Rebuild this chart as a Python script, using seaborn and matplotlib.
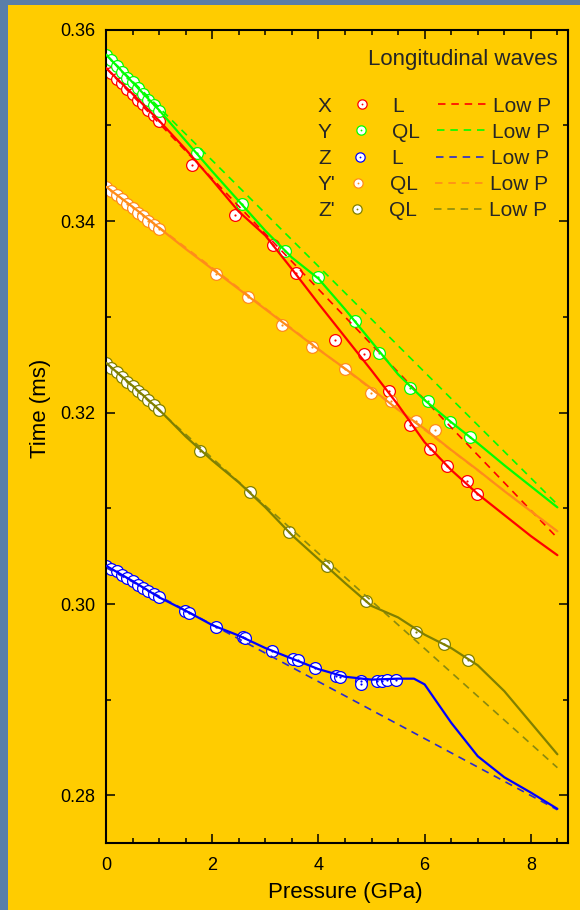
import matplotlib
matplotlib.use("Agg")
import matplotlib.pyplot as plt
import matplotlib.patches as mpatches
from matplotlib.lines import Line2D
from matplotlib.ticker import MultipleLocator, FormatStrFormatter
import pandas as pd
import seaborn as sns

# ---------------- data ----------------
P_dense = [0.0, 0.1, 0.2, 0.3, 0.4, 0.5, 0.6, 0.7, 0.8, 0.9, 1.0]

# measured points
X_P = P_dense + [1.62, 2.42, 3.15, 3.58, 4.31, 4.85, 5.32, 5.73, 6.10, 6.42, 6.80, 6.99]
X_T = [0.3560, 0.3555, 0.3549, 0.3544, 0.3538, 0.3533, 0.3527, 0.3522, 0.3516, 0.3511, 0.3505,
       0.3459, 0.3406, 0.3375, 0.3346, 0.3276, 0.3261, 0.3223, 0.3187, 0.3162, 0.3144, 0.3129, 0.3115]

Y_P = P_dense + [1.71, 2.57, 3.38, 4.00, 4.68, 5.15, 5.73, 6.06, 6.47, 6.86]
Y_T = [0.3574, 0.3568, 0.3562, 0.3556, 0.3550, 0.3545, 0.3539, 0.3533, 0.3527, 0.3521, 0.3515,
       0.3471, 0.3418, 0.3369, 0.3342, 0.3296, 0.3262, 0.3226, 0.3212, 0.3190, 0.3175]

Z_P = P_dense + [1.49, 1.57, 2.08, 2.58, 2.62, 3.12, 3.53, 3.62, 3.94, 4.33, 4.40,
                 4.80, 4.81, 5.10, 5.20, 5.30, 5.47]
Z_T = [0.3040, 0.3037, 0.3034, 0.3030, 0.3027, 0.3024, 0.3020, 0.3017, 0.3014, 0.3010, 0.3007,
       0.2993, 0.2991, 0.2976, 0.2966, 0.2964, 0.2951, 0.2943, 0.2941, 0.2933, 0.2925, 0.2924,
       0.2920, 0.2916, 0.2920, 0.2920, 0.2921, 0.2921]

Yp_P = P_dense + [2.07, 2.67, 3.32, 3.87, 4.51, 4.99, 5.36, 5.84, 6.20]
Yp_T = [0.3436, 0.3432, 0.3427, 0.3423, 0.3418, 0.3414, 0.3409, 0.3405, 0.3400, 0.3396, 0.3392,
        0.3345, 0.3321, 0.3291, 0.3269, 0.3246, 0.3220, 0.3212, 0.3191, 0.3182]

Zp_P = P_dense + [1.77, 2.71, 3.44, 4.16, 4.89, 5.83, 6.37, 6.82]
Zp_T = [0.3252, 0.3247, 0.3242, 0.3237, 0.3232, 0.3228, 0.3223, 0.3218, 0.3213, 0.3208, 0.3203,
        0.3160, 0.3117, 0.3075, 0.3040, 0.3003, 0.2971, 0.2958, 0.2941]

# solid model curves
FIT_P = [0.0, 0.5, 1.0, 1.5, 2.0, 2.5, 3.0, 3.5, 4.0, 4.5, 5.0, 5.5, 6.0, 6.5, 7.0, 7.5, 8.0, 8.5]
X_FIT = [0.3560, 0.3533, 0.3505, 0.3475, 0.3443, 0.3410, 0.3385, 0.3350, 0.3314, 0.3279,
         0.3244, 0.3208, 0.3169, 0.3140, 0.3115, 0.3093, 0.3071, 0.3051]
Y_FIT = [0.3574, 0.3545, 0.3516, 0.3484, 0.3452, 0.3421, 0.3390, 0.3362, 0.3340, 0.3308,
         0.3274, 0.3240, 0.3213, 0.3190, 0.3168, 0.3145, 0.3123, 0.3101]
Yp_FIT = [0.3436, 0.3415, 0.3393, 0.3371, 0.3350, 0.3329, 0.3308, 0.3287, 0.3266, 0.3246,
          0.3225, 0.3203, 0.3183, 0.3161, 0.3140, 0.3118, 0.3097, 0.3076]
Zp_FIT = [0.3252, 0.3228, 0.3203, 0.3175, 0.3150, 0.3127, 0.3101, 0.3072, 0.3047, 0.3022,
          0.2998, 0.2986, 0.2968, 0.2954, 0.2936, 0.2909, 0.2876, 0.2843]
Z_FIT_P = [0.0, 0.5, 1.0, 1.5, 2.0, 2.5, 3.0, 3.5, 4.0, 4.5, 5.0, 5.5, 5.8, 6.0, 6.5, 7.0, 7.5, 8.0, 8.5]
Z_FIT = [0.3040, 0.3024, 0.3007, 0.2993, 0.2978, 0.2967, 0.2954, 0.2943, 0.2932, 0.2924,
         0.2921, 0.2922, 0.2922, 0.2916, 0.2876, 0.2841, 0.2819, 0.2803, 0.2786]

# low-pressure linear extrapolations (end points)
LOWP_P = [0.0, 8.5]
X_LOWP = [0.3560, 0.3069]
Y_LOWP = [0.3574, 0.3104]
Z_LOWP = [0.3038, 0.2785]
Yp_LOWP = [0.3436, 0.3076]
Zp_LOWP = [0.3252, 0.2829]

LEG_NAMES = ["X", "Y", "Z", "Y'", "Z'"]
LEG_MODES = ["L", "QL", "L", "QL", "QL"]

# ---------------- style ----------------
YELLOW = "#ffcc00"
BORDER = "#5a7ea8"
COLORS = ["#ff0000", "#00ff00", "#0000ff", "#ff8c1a", "#808000"]
DASH_COLORS = ["#ff0000", "#00ff00", "#2a2ad0", "#ff8c1a", "#8a8a10"]

sns.set_style("ticks")
plt.rcParams["font.family"] = ["Liberation Sans", "DejaVu Sans"]

W, H = 580, 910
fig = plt.figure(figsize=(W / 100, H / 100), dpi=100)
fig.patch.set_facecolor(BORDER)
fig.patches.append(mpatches.Rectangle((8 / W, 0), 1 - 8 / W, 1 - 5 / H,
                                      transform=fig.transFigure, facecolor=YELLOW,
                                      edgecolor="none", zorder=-10))

ax_l, ax_r, ax_t, ax_b = 106, 568, 29.7, 843.3
ax = fig.add_axes([ax_l / W, 1 - ax_b / H, (ax_r - ax_l) / W, (ax_b - ax_t) / H])
ax.set_facecolor(YELLOW)

pts = [(X_P, X_T), (Y_P, Y_T), (Z_P, Z_T), (Yp_P, Yp_T), (Zp_P, Zp_T)]
fits = [(FIT_P, X_FIT), (FIT_P, Y_FIT), (Z_FIT_P, Z_FIT), (FIT_P, Yp_FIT), (FIT_P, Zp_FIT)]
lows = [X_LOWP, Y_LOWP, Z_LOWP, Yp_LOWP, Zp_LOWP]
DASH = (0, (4.5, 3.5))

for i in range(5):
    c = COLORS[i]
    p, t = pts[i]
    df = pd.DataFrame({"P": p, "T": t})
    sns.scatterplot(data=df, x="P", y="T", ax=ax, s=72, color="white",
                    edgecolor=c, linewidth=0.9, zorder=2)
    sns.scatterplot(data=df, x="P", y="T", ax=ax, s=2.5, color=c,
                    edgecolor=c, linewidth=0, zorder=2.1)

for i in range(5):
    dl = pd.DataFrame({"P": LOWP_P, "T": lows[i]})
    sns.lineplot(data=dl, x="P", y="T", ax=ax, color=DASH_COLORS[i], linewidth=1.2,
                 linestyle=DASH, estimator=None, sort=False, zorder=2.5)

for i in [3, 4, 2, 0, 1]:
    fp, ft = fits[i]
    dfit = pd.DataFrame({"P": fp, "T": ft})
    sns.lineplot(data=dfit, x="P", y="T", ax=ax, color=COLORS[i], linewidth=1.6,
                 estimator=None, sort=False, zorder=3)

ax.set_xlim(0, 8.7)
ax.set_ylim(0.275, 0.36)
ax.xaxis.set_major_locator(MultipleLocator(2))
ax.xaxis.set_minor_locator(MultipleLocator(0.5))
ax.yaxis.set_major_locator(MultipleLocator(0.02))
ax.yaxis.set_minor_locator(MultipleLocator(0.01))
ax.xaxis.set_major_formatter(FormatStrFormatter("%d"))
ax.yaxis.set_major_formatter(FormatStrFormatter("%.2f"))
ax.tick_params(which="both", direction="in", top=True, right=True, color="black",
               width=1.1, labelsize=13, labelcolor="black")
ax.tick_params(which="major", length=6.5)
ax.tick_params(which="minor", length=3.6)
ax.tick_params(axis="x", pad=10)
ax.tick_params(axis="y", pad=8)
for s in ax.spines.values():
    s.set_linewidth(1.5)
    s.set_color("black")
    s.set_visible(True)

ax.set_xlabel("Pressure (GPa)", fontsize=16, color="black")
ax.set_ylabel("Time (ms)", fontsize=16, color="black")
ax.xaxis.set_label_coords((345.5 - ax_l) / (ax_r - ax_l), (ax_b - 882) / (ax_b - ax_t))
ax.yaxis.set_label_coords((51.3 - ax_l) / (ax_r - ax_l), (ax_b - 408) / (ax_b - ax_t))


def fx(px):
    return px / W


def fy(py):
    return 1 - py / H


fig.text(fx(558), fy(65), "Longitudinal waves", fontsize=16, ha="right", va="baseline")
for i in range(5):
    base = 111.7 + 26.1 * i
    fig.text(fx(318), fy(base), LEG_NAMES[i], fontsize=15, ha="left", va="baseline")
    mx = 362.3 - 1.3 * i
    my = base - 7.4
    fig.add_artist(Line2D([fx(mx)], [fy(my)], transform=fig.transFigure, marker="o",
                          markersize=6.7, markerfacecolor="white",
                          markeredgecolor=COLORS[i], markeredgewidth=0.9, linestyle="none"))
    fig.add_artist(Line2D([fx(mx)], [fy(my)], transform=fig.transFigure, marker="o",
                          markersize=1.3, markerfacecolor=COLORS[i],
                          markeredgecolor=COLORS[i], markeredgewidth=0, linestyle="none"))
    fig.text(fx(392.7 - 0.8 * i), fy(base), LEG_MODES[i], fontsize=15, ha="left", va="baseline")
    x0 = 438.3 - 1.0 * i
    fig.add_artist(Line2D([fx(x0), fx(x0 + 47.7)], [fy(my), fy(my)], transform=fig.transFigure,
                          color=DASH_COLORS[i], linewidth=1.2, linestyle=DASH))
    fig.text(fx(492.7 - 0.9 * i), fy(base), "Low P", fontsize=15, ha="left", va="baseline")

fig.savefig("out.png", dpi=100, facecolor=fig.get_facecolor())
